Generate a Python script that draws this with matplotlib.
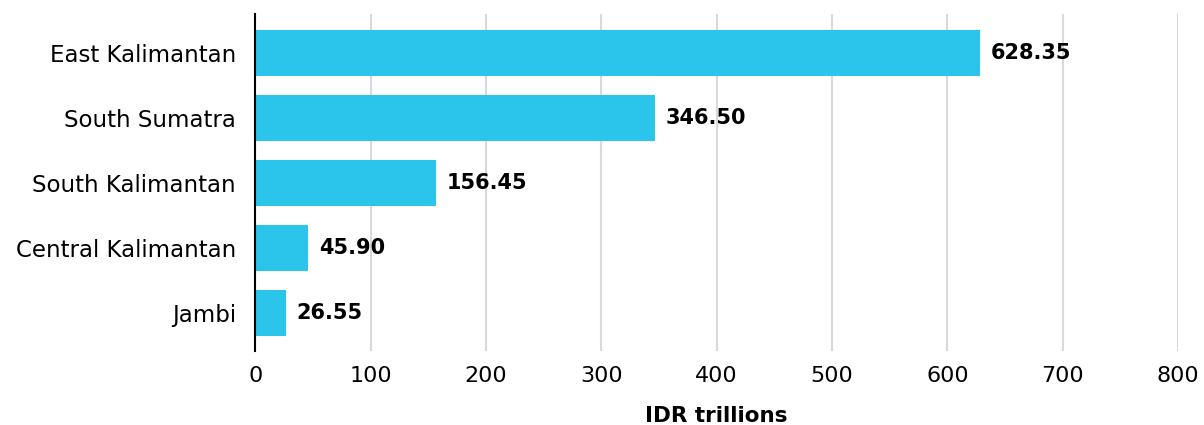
import matplotlib
matplotlib.use("Agg")
from matplotlib import pyplot as plt

regions = ["East Kalimantan", "South Sumatra", "South Kalimantan", "Central Kalimantan", "Jambi"]
values = [628.35, 346.50, 156.45, 45.90, 26.55]
xticks = [0, 100, 200, 300, 400, 500, 600, 700, 800]

plt.rcParams['font.family'] = ['DejaVu Sans']

fig = plt.figure(figsize=(12.04, 4.25), dpi=100)
ax = fig.add_axes([0.2122, 0.174, 0.7662, 0.793])

ypos = list(range(len(regions)))
ax.barh(ypos, values, height=0.72, color='#2BC4EA', zorder=3)

# value labels
for y, v in zip(ypos, values):
    ax.text(v + 9, y, f"{v:.2f}", va='center', ha='left', fontsize=15, fontweight='bold', color='black')

ax.set_xlim(0, 800)
ax.set_ylim(4.585, -0.6)
ax.set_yticks(ypos)
ax.set_yticklabels(regions, fontsize=16.5)
ax.set_xticks(xticks)
ax.set_xticklabels([str(t) for t in xticks], fontsize=16)
ax.tick_params(axis='y', length=0, pad=14)
ax.tick_params(axis='x', length=0, pad=11)

ax.grid(axis='x', color='#d9d9d9', linewidth=1.5, zorder=0)
for s in ['top', 'right', 'bottom']:
    ax.spines[s].set_visible(False)
ax.spines['left'].set_linewidth(1.5)
ax.spines['left'].set_zorder(4)

ax.set_xlabel("IDR trillions", fontsize=15.5, fontweight='bold', labelpad=14)

plt.savefig("out.png", dpi=100)
